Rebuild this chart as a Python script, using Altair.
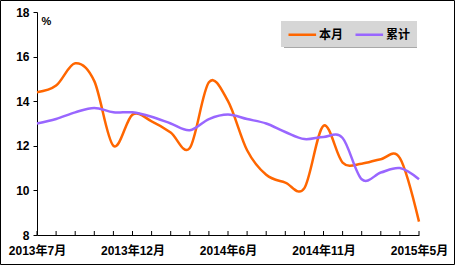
import altair as alt
import pandas as pd

months = ["2013年7月", "2013年8月", "2013年9月", "2013年10月", "2013年11月", "2013年12月",
          "2014年2月", "2014年3月", "2014年4月", "2014年5月", "2014年6月", "2014年7月",
          "2014年8月", "2014年9月", "2014年10月", "2014年11月", "2014年12月",
          "2015年2月", "2015年3月", "2015年4月", "2015年5月"]
benyue = [14.4, 14.7, 15.7, 14.9, 12.0, 13.4, 13.1, 12.6, 11.9, 14.85, 14.0,
          11.8, 10.7, 10.35, 10.1, 12.9, 11.25, 11.2, 11.4, 11.45, 8.6]
leiji = [13.0, 13.2, 13.5, 13.7, 13.5, 13.5, 13.3, 13.0, 12.7, 13.2, 13.4,
         13.2, 13.0, 12.62, 12.3, 12.4, 12.35, 10.5, 10.8, 11.0, 10.5]
series_names = ["本月", "累计"]
series_colors = ["#FF6600", "#9966FF"]
x_labels = ["2013年7月", "2013年12月", "2014年6月", "2014年11月", "2015年5月"]
y_ticks = [8, 10, 12, 14, 16, 18]

FONT = "Liberation Sans, Noto Sans CJK SC"

rows = []
for m, a, b in zip(months, benyue, leiji):
    rows.append({"month": m, "series": series_names[0], "value": a})
    rows.append({"month": m, "series": series_names[1], "value": b})
df = pd.DataFrame(rows)
mdf = pd.DataFrame({"month": months})
one = pd.DataFrame({"k": [0]})

xenc = alt.X("month:O", sort=months,
             scale=alt.Scale(type="point", padding=0),
             axis=alt.Axis(values=x_labels, title=None, ticks=False, grid=False,
                           labelAngle=0, labelAlign="center", labelBaseline="top",
                           labelFont=FONT, labelFontSize=12,
                           labelFontWeight="bold", labelColor="black",
                           labelPadding=10, labelFlush=False, labelOverlap=False,
                           domainColor="black", domainWidth=1))

lines = alt.Chart(df).mark_line(interpolate="cardinal", tension=0, strokeWidth=2.5).encode(
    x=xenc,
    y=alt.Y("value:Q", scale=alt.Scale(domain=[8, 18], nice=False, zero=False),
            axis=alt.Axis(values=y_ticks, title="%", titleAngle=0, titleX=4, titleY=9,
                          titleAlign="left", titleBaseline="middle", titleFont=FONT,
                          titleFontSize=11, titleFontWeight="bold", titleColor="black",
                          grid=False, tickSize=4, tickColor="black", domainColor="black",
                          labelFont=FONT, labelFontSize=12, labelFontWeight="bold",
                          labelColor="black", labelPadding=4)),
    color=alt.Color("series:N", scale=alt.Scale(domain=series_names, range=series_colors),
                    legend=alt.Legend(orient="none", legendX=244, legendY=9,
                                      direction="horizontal", title=None,
                                      fillColor="#d6d6d6", padding=6,
                                      symbolType="M-1,0H3.6", symbolSize=144,
                                      symbolStrokeWidth=2.5, labelFont=FONT,
                                      labelFontSize=12, labelFontWeight="bold",
                                      labelColor="black", labelOffset=17,
                                      columnPadding=6)),
)

ticks = alt.Chart(mdf).mark_rule(color="black", strokeWidth=1).encode(
    x=alt.X("month:O", sort=months), y=alt.value(223), y2=alt.value(219))

shadow = alt.Chart(one).mark_rect(fill="#a8a8a8").encode(
    x=alt.value(247), x2=alt.value(380), y=alt.value(12), y2=alt.value(36))

frame = alt.Chart(one).mark_rect(filled=False, stroke="black", strokeWidth=1).encode(
    x=alt.value(-36.5), x2=alt.value(417.5), y=alt.value(-11.5), y2=alt.value(252.5))

chart = alt.layer(frame, shadow, ticks, lines).properties(
    width=382, height=223,
    autosize=alt.AutoSizeParams(type="none"),
    padding={"left": 37, "top": 12, "right": 37, "bottom": 31},
    background="white",
).configure_view(strokeWidth=0)

chart.save("out.html", embed_options={"renderer": "svg", "actions": False})
